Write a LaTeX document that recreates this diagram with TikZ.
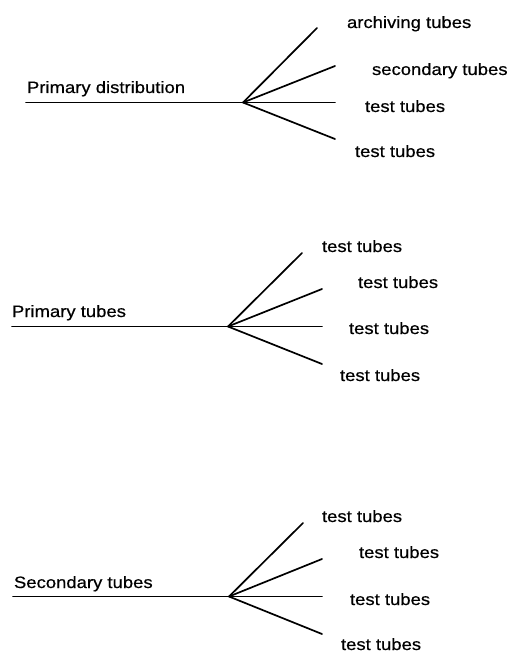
\documentclass[tikz,border=0pt]{standalone}
\usepackage{fontspec}
\newfontfamily\labfont[FakeStretch=1.12,FakeBold=0.5]{Liberation Sans}
\tikzset{
  lab/.style={anchor=base west, inner sep=0pt, outer sep=0pt, font=\labfont\fontsize{16.5}{18}\selectfont},
  br/.style={line width=1.7pt, line cap=round}
}
\begin{document}
\begin{tikzpicture}[x=1pt,y=-1pt]
\useasboundingbox (0,0) rectangle (508,652);
% ---- group 1
\coordinate (s1) at (26,102.5);
\coordinate (j1) at (243,102.5);
\coordinate (a1) at (317,28);
\coordinate (b1) at (335,66);
\coordinate (c1) at (335,102.5);
\coordinate (d1) at (335,139);
\draw[br] (s1) -- (j1);
\draw[br] (j1) -- (a1);
\draw[br] (j1) -- (b1);
\draw[br] (j1) -- (c1);
\draw[br] (j1) -- (d1);
\node[lab] (t1) at (27,93) {Primary distribution};
\node[lab] (la1) at (347,28) {archiving tubes};
\node[lab] (lb1) at (372,75) {secondary tubes};
\node[lab] (lc1) at (365,112) {test tubes};
\node[lab] (ld1) at (355,157) {test tubes};
% ---- group 2
\coordinate (s2) at (12,326.5);
\coordinate (j2) at (228,326.5);
\coordinate (a2) at (302,253);
\coordinate (b2) at (322,289);
\coordinate (c2) at (322,326.5);
\coordinate (d2) at (322,364);
\draw[br] (s2) -- (j2);
\draw[br] (j2) -- (a2);
\draw[br] (j2) -- (b2);
\draw[br] (j2) -- (c2);
\draw[br] (j2) -- (d2);
\node[lab] (t2) at (12,317) {Primary tubes};
\node[lab] (la2) at (322,252) {test tubes};
\node[lab] (lb2) at (358,288) {test tubes};
\node[lab] (lc2) at (349,334) {test tubes};
\node[lab] (ld2) at (340,381) {test tubes};
% ---- group 3
\coordinate (s3) at (13,596.5);
\coordinate (j3) at (229,596.5);
\coordinate (a3) at (303,523);
\coordinate (b3) at (322,559);
\coordinate (c3) at (322,596.5);
\coordinate (d3) at (322,634);
\draw[br] (s3) -- (j3);
\draw[br] (j3) -- (a3);
\draw[br] (j3) -- (b3);
\draw[br] (j3) -- (c3);
\draw[br] (j3) -- (d3);
\node[lab] (t3) at (14,588) {Secondary tubes};
\node[lab] (la3) at (322,522) {test tubes};
\node[lab] (lb3) at (359,558) {test tubes};
\node[lab] (lc3) at (350,605) {test tubes};
\node[lab] (ld3) at (341,650) {test tubes};
\end{tikzpicture}
\end{document}
